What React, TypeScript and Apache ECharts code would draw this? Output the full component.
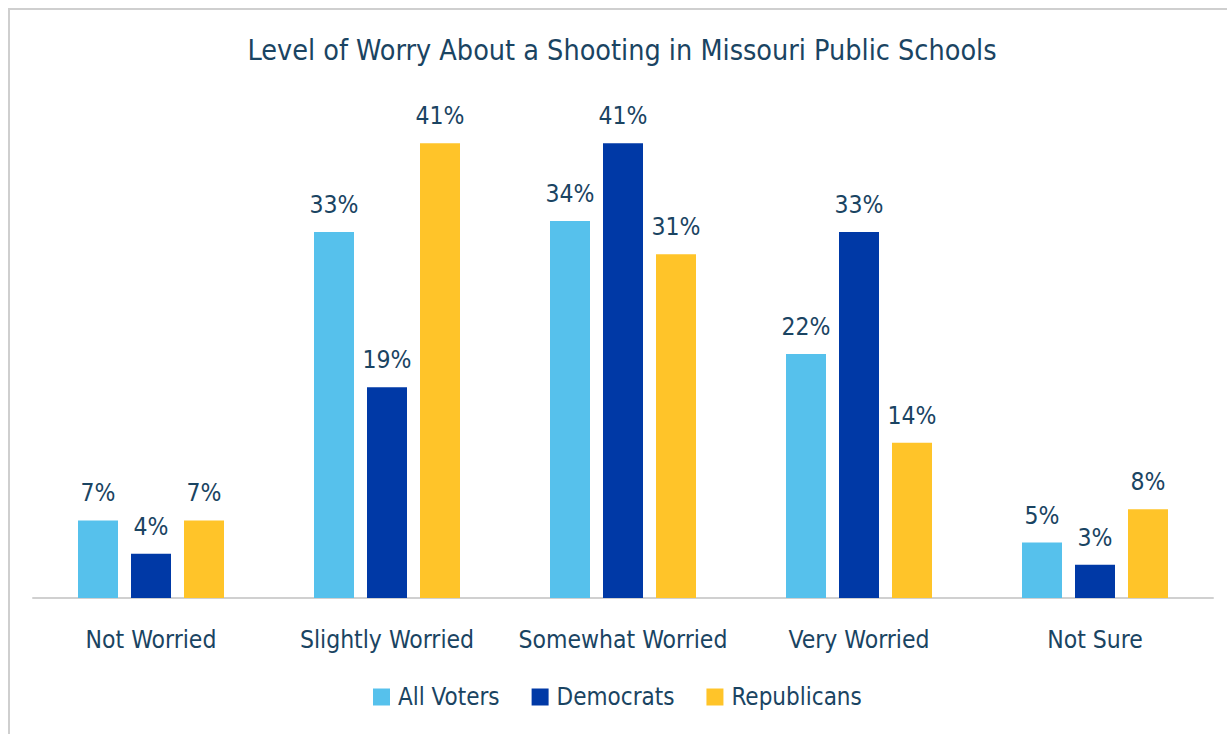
import React, { useEffect, useRef } from "react";
import * as echarts from "echarts";

const categories = ["Not Worried", "Slightly Worried", "Somewhat Worried", "Very Worried", "Not Sure"];
const allVoters = [7, 33, 34, 22, 5];
const democrats = [4, 19, 41, 33, 3];
const republicans = [7, 41, 31, 14, 8];
const seriesNames = ["All Voters", "Democrats", "Republicans"];
const colors = ["#56c1ec", "#0039a6", "#ffc429"];
const titleText = "Level of Worry About a Shooting in Missouri Public Schools";

const FONT = '"DejaVu Sans Condensed", "Liberation Sans Narrow", "Noto Sans", sans-serif';
const TEXT = "#1a4462";

export default function App() {
  const ref = useRef<HTMLDivElement>(null);
  useEffect(() => {
    if (!ref.current) return;
    const chart = echarts.init(ref.current, null, { renderer: "svg" });
    const data = [allVoters, democrats, republicans];
    chart.setOption({
      animation: false,
      backgroundColor: "#ffffff",
      textStyle: { fontFamily: FONT },
      graphic: [
        {
          type: "rect",
          shape: { x: 9, y: 9, width: 1260, height: 760 },
          style: { fill: "none", stroke: "#cfcfcf", lineWidth: 2 },
          silent: true,
        },
        {
          type: "text",
          x: 622,
          y: 50,
          style: {
            text: titleText,
            fontFamily: FONT,
            fontSize: 28.5,
            fill: TEXT,
            textAlign: "center",
            textVerticalAlign: "middle",
          },
        },
      ],
      legend: {
        left: 368,
        top: 680,
        itemWidth: 17,
        itemHeight: 17,
        itemGap: 32,
        icon: "rect",
        textStyle: { fontFamily: FONT, fontSize: 24, color: TEXT, padding: [0, 0, 0, 3] },
        data: seriesNames,
      },
      grid: { left: 33, width: 1180, top: 99, height: 499, containLabel: false },
      xAxis: {
        type: "category",
        data: categories,
        axisLine: { lineStyle: { color: "#d0d0d0", width: 2 } },
        axisTick: { show: false },
        axisLabel: { fontFamily: FONT, fontSize: 24.5, color: TEXT, margin: 29, interval: 0 },
      },
      yAxis: {
        type: "value",
        min: 0,
        max: 45,
        show: false,
        splitLine: { show: false },
      },
      series: seriesNames.map((name, i) => ({
        name,
        type: "bar",
        data: data[i],
        barWidth: 40,
        barGap: "32.5%",
        itemStyle: { color: colors[i] },
        label: {
          show: true,
          position: "top",
          distance: 15,
          formatter: "{c}%",
          fontFamily: FONT,
          fontSize: 24.5,
          color: TEXT,
        },
      })),
    });
    return () => chart.dispose();
  }, []);
  return (
    <div
      ref={ref}
      style={{ position: "fixed", left: 0, top: 0, width: 1227, height: 734, background: "#fff" }}
    />
  );
}
